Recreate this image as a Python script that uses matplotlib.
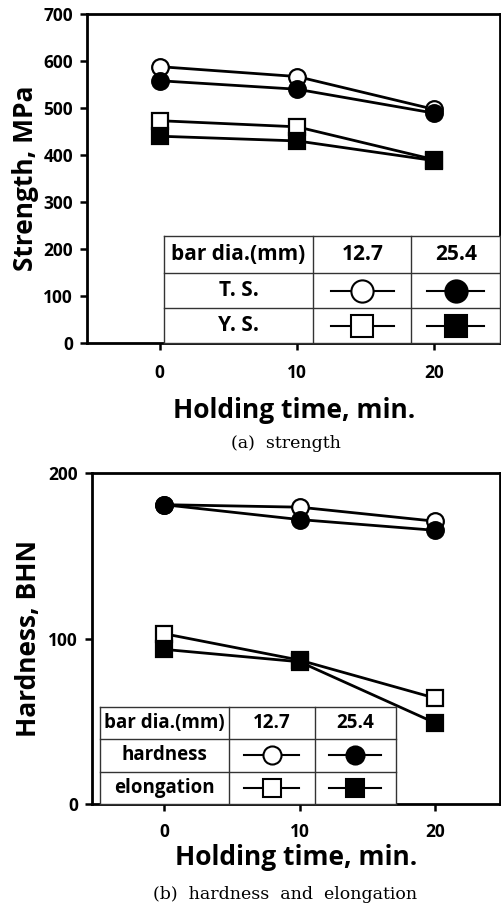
import matplotlib

matplotlib.use("Agg")
import matplotlib.pyplot as plt
from matplotlib.lines import Line2D

# Holding time (min)
TIME = [0, 10, 20]

# (a) strength, MPa
TS_127 = [588, 567, 497]
TS_254 = [558, 540, 489]
YS_127 = [473, 460, 390]
YS_254 = [440, 430, 388]

# (b) hardness (BHN) and elongation
HD_127 = [181, 179.5, 171]
HD_254 = [181, 172, 165.5]
EL_127 = [103, 87, 64]
EL_254 = [93.5, 86, 49]

DIAMETERS = ["12.7", "25.4"]
ROWS_A = ["T. S.", "Y. S."]
ROWS_B = ["hardness", "elongation"]

SANS = "Open Sans"
SERIF = "DejaVu Serif"
plt.rcParams["font.family"] = SANS

MK = dict(color="black", lw=2, ms=12, mew=1.6, mec="black")


def style_axes(ax, ylim, yticks, xpad):
    ax.set_xlim(-5.3, 24.8)
    ax.set_ylim(*ylim)
    ax.set_xticks(TIME)
    ax.set_yticks(yticks)
    for s in ax.spines.values():
        s.set_linewidth(2)
    ax.tick_params(direction="out", length=5, width=1.8, labelsize=12.5)
    ax.tick_params(axis="x", pad=xpad)
    ax.tick_params(axis="y", pad=5)
    for lab in ax.get_xticklabels() + ax.get_yticklabels():
        lab.set_fontweight("bold")


def legend_table(ax, xs, ys, row_names, fs, ms):
    # xs: column edges, ys: row edges (top to bottom), in axes fraction
    kw = dict(transform=ax.transAxes, color="#333333", lw=1.0, clip_on=False, zorder=4)
    ax.add_patch(plt.Rectangle((xs[0], ys[-1]), xs[-1] - xs[0], ys[0] - ys[-1],
                               transform=ax.transAxes, facecolor="white",
                               edgecolor="none", zorder=3))
    for x in xs:
        ax.add_line(Line2D([x, x], [ys[-1], ys[0]], **kw))
    for y in ys:
        ax.add_line(Line2D([xs[0], xs[-1]], [y, y], **kw))
    tk = dict(transform=ax.transAxes, ha="center", va="center", fontsize=fs,
              fontweight="bold", zorder=5)
    ym = [(ys[i] + ys[i + 1]) / 2 for i in range(3)]
    ax.text((xs[0] + xs[1]) / 2, ym[0], "bar dia.(mm)", **tk)
    ax.text((xs[1] + xs[2]) / 2, ym[0], DIAMETERS[0], **tk)
    ax.text((xs[2] + xs[3]) / 2, ym[0], DIAMETERS[1], **tk)
    markers = [("o", "white"), ("o", "black"), ("s", "white"), ("s", "black")]
    k = 0
    for r, name in enumerate(row_names):
        ax.text((xs[0] + xs[1]) / 2, ym[r + 1], name, **tk)
        for c in range(2):
            m, fc = markers[k]
            k += 1
            cx = (xs[c + 1] + xs[c + 2]) / 2
            half = 0.32 * (xs[c + 2] - xs[c + 1])
            ax.add_line(Line2D([cx - half, cx + half], [ym[r + 1]] * 2,
                               transform=ax.transAxes, color="black", lw=1.5,
                               clip_on=False, zorder=5))
            ax.add_line(Line2D([cx], [ym[r + 1]], marker=m, ms=ms, mfc=fc,
                               mec="black", mew=1.5, transform=ax.transAxes,
                               clip_on=False, zorder=6))


fig = plt.figure(figsize=(5.01, 9.11), dpi=100)

# (a) strength
ax1 = fig.add_axes([0.1737, 0.6235, 0.825, 0.3611])
ax1.plot(TIME, TS_127, marker="o", mfc="white", zorder=3, **MK)
ax1.plot(TIME, TS_254, marker="o", mfc="black", zorder=3, **MK)
ax1.plot(TIME, YS_127, marker="s", mfc="white", zorder=3, **MK)
ax1.plot(TIME, YS_254, marker="s", mfc="black", zorder=3, **MK)
style_axes(ax1, (0, 700), range(0, 701, 100), 10)
ax1.set_ylabel("Strength, MPa", fontsize=19, fontweight="bold", va="center")
ax1.yaxis.set_label_coords(-0.15, 0.5)
ax1.set_xlabel("Holding time, min.", fontsize=19, fontweight="bold", va="center")
ax1.xaxis.set_label_coords(0.5, -0.204)
legend_table(ax1, [0.186, 0.547, 0.785, 1.0], [0.325, 0.213, 0.106, 0.0],
             ROWS_A, 15, 16)
fig.text(0.571, 0.5137, "(a)  strength", ha="center", va="center",
         fontsize=12.5, family=SERIF)

# (b) hardness and elongation
ax2 = fig.add_axes([0.1836, 0.1175, 0.815, 0.363])
ax2.plot(TIME, HD_127, marker="o", mfc="white", zorder=3, **MK)
ax2.plot(TIME, HD_254, marker="o", mfc="black", zorder=3, **MK)
ax2.plot(TIME, EL_127, marker="s", mfc="white", zorder=3, **MK)
ax2.plot(TIME, EL_254, marker="s", mfc="black", zorder=3, **MK)
style_axes(ax2, (0, 200), [0, 100, 200], 9)
ax2.set_ylabel("Hardness, BHN", fontsize=19, fontweight="bold", va="center")
ax2.yaxis.set_label_coords(-0.155, 0.5)
ax2.set_xlabel("Holding time, min.", fontsize=19, fontweight="bold", va="center")
ax2.xaxis.set_label_coords(0.5, -0.163)
legend_table(ax2, [0.02, 0.335, 0.545, 0.744], [0.294, 0.196, 0.098, 0.0],
             ROWS_B, 13.5, 13)
fig.text(0.569, 0.0176, "(b)  hardness  and  elongation", ha="center", va="center",
         fontsize=12.5, family=SERIF)

fig.savefig("out.png", dpi=100)
